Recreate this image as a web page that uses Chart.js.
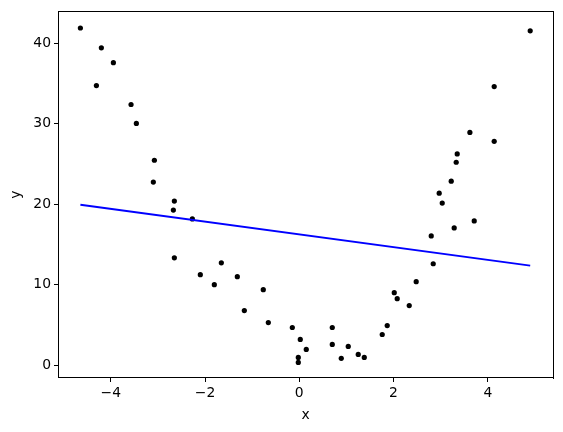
<!DOCTYPE html>
<html>
<head>
<meta charset="utf-8">
<script src="https://cdn.jsdelivr.net/npm/chart.js@4/dist/chart.umd.min.js"></script>
<style>
  html, body { margin: 0; padding: 0; background: #fff; }
  #wrap { width: 563px; height: 432px; position: relative; }
</style>
</head>
<body>
<div id="wrap"><canvas id="c"></canvas></div>
<script>
// scatter samples
const xValues = [-4.645, -4.20, -3.945, -4.305, -3.57, -3.457, -3.075, -3.097, -2.651, -2.672,
  -2.269, -2.651, -1.654, -2.10, -1.315, -1.803, -0.764, -1.166, -0.657, -0.148,
  0.021, 0.148, -0.021, -0.021, 0.70, 0.70, 0.891, 1.039, 1.251, 1.379,
  1.76, 1.866, 2.015, 2.078, 2.333, 2.481, 2.842, 2.80, 3.287, 3.712,
  3.033, 2.969, 3.224, 3.33, 3.351, 4.136, 3.62, 4.136, 4.90];
const yValues = [41.9, 39.44, 37.59, 34.74, 32.39, 30.04, 25.46, 22.74, 20.38, 19.27,
  18.16, 13.33, 12.71, 11.23, 10.98, 9.99, 9.37, 6.77, 5.28, 4.67,
  3.18, 1.94, 0.95, 0.33, 4.67, 2.56, 0.83, 2.31, 1.32, 0.95,
  3.80, 4.91, 9.0, 8.25, 7.39, 10.36, 12.59, 16.05, 17.04, 17.91,
  20.14, 21.37, 22.86, 25.21, 26.24, 27.81, 28.92, 34.62, 41.55];

// fitted straight line (end points)
const lineX = [-4.645, 4.90];
const lineY = [19.93, 12.36];

const xTicks = [-4, -2, 0, 2, 4];
const yTicks = [0, 10, 20, 30, 40];

const FONT = { family: '"DejaVu Sans", sans-serif', size: 13.9 };
const fmt = (v) => (v < 0 ? '\u2212' + Math.abs(v) : String(v));

// top + right spines (matplotlib box)
const frame = {
  id: 'boxFrame',
  afterDraw(chart) {
    const a = chart.chartArea, ctx = chart.ctx;
    const l = Math.round(a.left), t = Math.round(a.top);
    const r = Math.round(a.right), b = Math.round(a.bottom);
    ctx.save();
    ctx.fillStyle = '#000';
    ctx.fillRect(l, t, r - l + 1, 1);
    ctx.fillRect(r, t, 1, b - t + 1);
    ctx.restore();
  }
};

new Chart(document.getElementById('c'), {
  type: 'scatter',
  data: {
    datasets: [
      {
        type: 'line',
        data: lineX.map((x, i) => ({ x, y: lineY[i] })),
        borderColor: '#0000ff',
        borderWidth: 2,
        pointRadius: 0,
        fill: false,
        order: 0,
      },
      {
        data: xValues.map((x, i) => ({ x, y: yValues[i] })),
        backgroundColor: '#000',
        borderWidth: 0,
        pointRadius: 2.6,
        order: 1,
      },
    ],
  },
  options: {
    responsive: true,
    maintainAspectRatio: false,
    animation: false,
    layout: { padding: { top: 9.7, right: 9.7, left: 0, bottom: 0 } },
    plugins: { legend: { display: false }, tooltip: { enabled: false } },
    scales: {
      x: {
        type: 'linear',
        min: -5.12,
        max: 5.39,
        afterBuildTicks: (s) => { s.ticks = xTicks.map((v) => ({ value: v })); },
        afterFit: (s) => { s.height = 54; },
        grid: { display: true, drawOnChartArea: false, drawTicks: true, tickLength: 4, color: '#000' },
        border: { display: true, color: '#000' },
        ticks: { color: '#000', font: FONT, padding: 3, maxRotation: 0, callback: fmt },
        title: { display: true, text: 'x', color: '#000', font: FONT, padding: { top: 0, bottom: 8 } },
      },
      y: {
        type: 'linear',
        min: -1.61,
        max: 43.97,
        afterBuildTicks: (s) => { s.ticks = yTicks.map((v) => ({ value: v })); },
        afterFit: (s) => { s.width = 58; },
        grid: { display: true, drawOnChartArea: false, drawTicks: true, tickLength: 4, color: '#000' },
        border: { display: true, color: '#000' },
        ticks: { color: '#000', font: FONT, padding: 3, callback: fmt },
        title: { display: true, text: 'y', color: '#000', font: FONT, padding: { top: 8, bottom: 0 } },
      },
    },
  },
  plugins: [frame],
});
</script>
</body>
</html>
